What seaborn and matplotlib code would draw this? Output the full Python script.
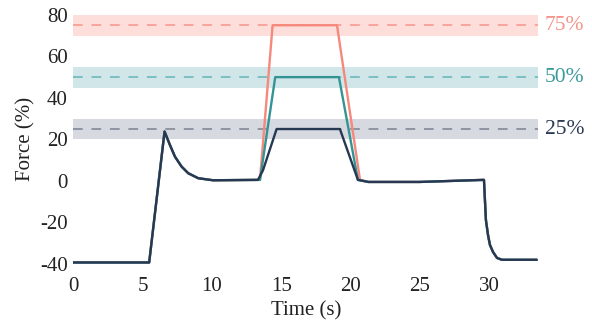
import matplotlib
matplotlib.use("Agg")
import matplotlib.pyplot as plt
import seaborn as sns
import pandas as pd

# Shared force trace before and after the hold (time in s, force in %)
pre_time = [0.0, 5.47, 6.58, 6.97, 7.33, 7.81, 8.29, 9.01, 10.09, 13.32]
pre_force = [-39.3, -39.3, 23.8, 17.3, 11.7, 6.9, 3.7, 1.3, 0.3, 0.5]
post_time = [21.3, 25.0, 29.64, 29.71, 29.78, 29.93, 30.07, 30.29, 30.58, 30.94, 33.45]
post_force = [-0.5, -0.5, 0.5, -9.2, -18.8, -26.0, -30.8, -34.2, -37.1, -38.0, -38.0]

# Target levels and the trapezoidal hold for each one
levels = ["75%", "50%", "25%"]
targets = [75, 50, 25]
hold_time = {
    "75%": [13.47, 14.38, 19.03, 20.69],
    "50%": [13.47, 14.57, 19.17, 20.54],
    "25%": [13.68, 14.67, 19.24, 20.54],
}
hold_force = {
    "75%": [0.5, 75, 75, 0.5],
    "50%": [0.5, 50, 50, 0.5],
    "25%": [5.0, 25, 25, 0.5],
}

line_colors = {"75%": "#F6887C", "50%": "#349394", "25%": "#263852"}
band_colors = {"75%": "#FDDEDA", "50%": "#D0E6E8", "25%": "#D6D9DF"}
dash_colors = {"75%": "#F8A59C", "50%": "#7CBFC1", "25%": "#8C94A2"}
label_colors = {"75%": "#F4948A", "50%": "#3A9A9B", "25%": "#2B3B55"}

rows = []
for lv in levels:
    t = pre_time + hold_time[lv] + post_time
    f = pre_force + hold_force[lv] + post_force
    for ti, fi in zip(t, f):
        rows.append({"Time (s)": ti, "Force (%)": fi, "level": lv})
df = pd.DataFrame(rows)

sns.set_theme(style="white")
plt.rcParams["font.family"] = ["Liberation Serif", "DejaVu Serif"]
plt.rcParams["axes.unicode_minus"] = False

fig = plt.figure(figsize=(5.92, 3.28), dpi=100)
ax = fig.add_axes([0.124, 0.189, 0.785, 0.772])

for lv, tg in zip(levels, targets):
    ax.axhspan(tg - 5, tg + 5, color=band_colors[lv], lw=0, zorder=0)
    ax.axhline(tg, color=dash_colors[lv], lw=1.4, ls=(0, (5, 4.5)), zorder=1)

sns.lineplot(data=df, x="Time (s)", y="Force (%)", hue="level",
             hue_order=levels, palette=line_colors, sort=False,
             estimator=None, lw=1.7, legend=False, ax=ax, zorder=3)

ax.set_xlim(0, 33.55)
ax.set_ylim(-41, 81)
ax.set_xticks([0, 5, 10, 15, 20, 25, 30])
ax.set_yticks([-40, -20, 0, 20, 40, 60, 80])
for s in ax.spines.values():
    s.set_visible(False)
ax.tick_params(axis="x", length=0, pad=8, labelsize=15, labelcolor="#222222")
ax.tick_params(axis="y", length=0, pad=4, labelsize=15, labelcolor="#222222")
ax.set_xlabel("Time (s)", fontsize=15, color="#222222", labelpad=4)
ax.set_ylabel("Force (%)", fontsize=15, color="#222222", labelpad=3)

for lv, tg in zip(levels, targets):
    ax.text(1.015, tg, lv, transform=ax.get_yaxis_transform(),
            color=label_colors[lv], fontsize=15.5, va="center", ha="left")

fig.savefig("out.png", dpi=100)
